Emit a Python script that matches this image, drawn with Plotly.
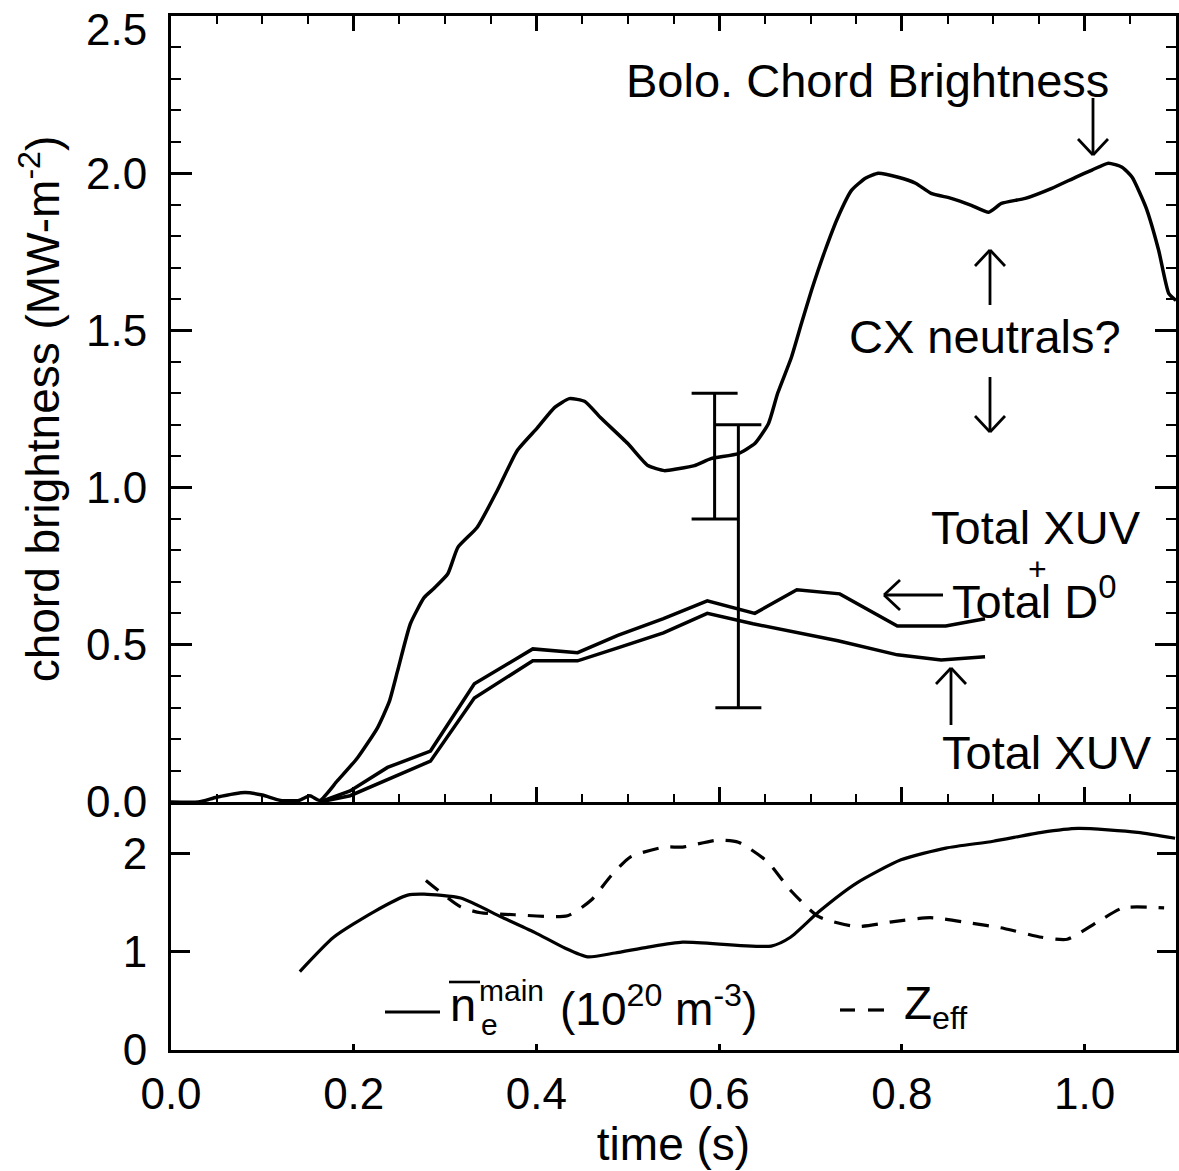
import math
import plotly.graph_objects as go

# ---------------- data ----------------
bolo_t = [0.0, 0.03, 0.05, 0.081, 0.10, 0.12, 0.14, 0.152, 0.163, 0.182, 0.204, 0.226, 0.239,
          0.248, 0.262, 0.277, 0.288, 0.303, 0.314, 0.335, 0.357, 0.379, 0.401, 0.42, 0.436,
          0.453, 0.47, 0.5, 0.522, 0.54, 0.555, 0.573, 0.591, 0.621, 0.639, 0.654, 0.664,
          0.679, 0.69, 0.701, 0.716, 0.73, 0.745, 0.76, 0.774, 0.796, 0.815, 0.832, 0.854,
          0.876, 0.895, 0.909, 0.935, 0.964, 0.99, 1.008, 1.026, 1.041, 1.052, 1.067, 1.081,
          1.092, 1.1]
bolo_v = [0.0, 0.0, 0.015, 0.03, 0.022, 0.005, 0.005, 0.02, 0.005, 0.067, 0.14, 0.236, 0.32,
          0.417, 0.567, 0.65, 0.68, 0.726, 0.81, 0.873, 0.99, 1.118, 1.19, 1.255, 1.283,
          1.274, 1.223, 1.14, 1.07, 1.054, 1.06, 1.07, 1.092, 1.108, 1.14, 1.204, 1.3,
          1.414, 1.522, 1.627, 1.755, 1.86, 1.946, 1.984, 2.0, 1.987, 1.968, 1.936, 1.92,
          1.898, 1.876, 1.904, 1.92, 1.952, 1.987, 2.01, 2.032, 2.019, 1.987, 1.892, 1.755,
          1.618, 1.595]

xuvd0_t = [0.163, 0.196, 0.237, 0.284, 0.332, 0.396, 0.445, 0.489, 0.539, 0.587, 0.639,
           0.685, 0.732, 0.795, 0.848, 0.891]
xuvd0_v = [0.0, 0.035, 0.11, 0.162, 0.376, 0.487, 0.475, 0.53, 0.583, 0.64, 0.60,
           0.675, 0.662, 0.56, 0.56, 0.583]

xuv_t = [0.163, 0.196, 0.284, 0.332, 0.396, 0.445, 0.489, 0.539, 0.587, 0.637, 0.730,
         0.795, 0.843, 0.891]
xuv_v = [0.0, 0.02, 0.13, 0.331, 0.449, 0.449, 0.49, 0.538, 0.60, 0.567, 0.513,
         0.468, 0.452, 0.462]

eb_t = [0.595, 0.621]
eb_center = [1.10, 0.75]
eb_err = [0.20, 0.45]

ne_t = [0.141, 0.178, 0.222, 0.259, 0.277, 0.317, 0.361, 0.398, 0.431, 0.456, 0.486,
        0.522, 0.56, 0.657, 0.678, 0.709, 0.75, 0.799, 0.848, 0.9, 0.953, 0.993, 1.058, 1.099]
ne_v = [0.80, 1.15, 1.41, 1.58, 1.59, 1.55, 1.36, 1.20, 1.04, 0.95, 0.99,
        1.05, 1.10, 1.06, 1.15, 1.41, 1.70, 1.94, 2.06, 2.13, 2.22, 2.26, 2.22, 2.16]

zeff_t = [0.279, 0.317, 0.339, 0.376, 0.434, 0.46, 0.481, 0.503, 0.54, 0.56, 0.597, 0.621,
          0.653, 0.678, 0.709, 0.75, 0.791, 0.831, 0.872, 0.912, 0.953, 0.981, 1.013, 1.042, 1.087]
zeff_v = [1.73, 1.46, 1.40, 1.38, 1.37, 1.53, 1.77, 1.97, 2.07, 2.07, 2.14, 2.12,
          1.92, 1.63, 1.36, 1.26, 1.31, 1.35, 1.30, 1.24, 1.15, 1.13, 1.30, 1.45, 1.45]

top_ticks = [0.0, 0.5, 1.0, 1.5, 2.0, 2.5]
bot_ticks = [0, 1, 2]
x_ticks = [0.0, 0.2, 0.4, 0.6, 0.8, 1.0]

# ---------------- layout geometry (pixels) ----------------
W, H = 1179, 1171
L, R, T, B = 171, 1176, 16, 1050
SPLIT = 802  # pixel row between panels
FONT = "Liberation Sans, Arial, Helvetica, sans-serif"


def P(x, y):
    return (x - L) / (R - L), (B - y) / (B - T)


fig = go.Figure()
LW = 3.5
fig.add_trace(go.Scatter(x=bolo_t, y=bolo_v, mode="lines",
                         line=dict(color="black", width=LW, shape="spline", smoothing=0.5),
                         xaxis="x", yaxis="y", showlegend=False, name="Bolo"))
fig.add_trace(go.Scatter(x=xuvd0_t, y=xuvd0_v, mode="lines", line=dict(color="black", width=LW),
                         xaxis="x", yaxis="y", showlegend=False, name="XUV+D0"))
fig.add_trace(go.Scatter(x=xuv_t, y=xuv_v, mode="lines", line=dict(color="black", width=LW),
                         xaxis="x", yaxis="y", showlegend=False, name="XUV"))
fig.add_trace(go.Scatter(x=eb_t, y=eb_center, mode="markers",
                         marker=dict(size=1, color="rgba(0,0,0,0)"),
                         error_y=dict(type="data", array=eb_err, visible=True, color="black",
                                      thickness=3, width=23),
                         xaxis="x", yaxis="y", showlegend=False, name="err"))
fig.add_trace(go.Scatter(x=ne_t, y=ne_v, mode="lines",
                         line=dict(color="black", width=3.2, shape="spline", smoothing=0.6),
                         xaxis="x2", yaxis="y2", showlegend=False, name="ne"))
fig.add_trace(go.Scatter(x=zeff_t, y=zeff_v, mode="lines",
                         line=dict(color="black", width=3.2, dash="16px,12px",
                                   shape="spline", smoothing=0.6),
                         xaxis="x2", yaxis="y2", showlegend=False, name="Zeff"))

split_frac = (B - SPLIT) / (B - T)
axis_common = dict(showline=True, linewidth=3, linecolor="black", showgrid=False,
                   zeroline=False, tickcolor="black", ticklabeloverflow="allow",
                   tickfont=dict(family=FONT, size=44, color="black"))

# the top label (2.5) sits a little below its tick in the reference, so it is placed
# as an annotation and left blank in the tick text
top_text = [f"{v:.1f}" if v < 2.5 else "" for v in top_ticks]

fig.update_layout(
    width=W, height=H,
    margin=dict(l=L, r=W - R, t=T, b=H - B, autoexpand=False),
    plot_bgcolor="white", paper_bgcolor="white",
    font=dict(family=FONT, color="black"),
    xaxis=dict(domain=[0, 1], anchor="y", range=[0, 1.1], showticklabels=False,
               ticks="inside", ticklen=15, tickwidth=2.5, tickmode="array", tickvals=x_ticks,
               minor=dict(ticks="inside", ticklen=8, tickwidth=2, dtick=0.05, tick0=0,
                          tickcolor="black"),
               mirror="allticks", **axis_common),
    yaxis=dict(domain=[split_frac, 1], anchor="x", range=[0, 2.5], tickmode="array",
               tickvals=top_ticks, ticktext=top_text,
               ticks="inside", ticklen=21, tickwidth=2.5, ticklabelstandoff=12,
               minor=dict(ticks="inside", ticklen=10, tickwidth=2, dtick=0.1, tick0=0,
                          tickcolor="black"),
               mirror="allticks",
               title=dict(text="chord brightness (MW-m<sup>-2</sup>)",
                          font=dict(family=FONT, size=46, color="black"), standoff=12),
               **axis_common),
    xaxis2=dict(domain=[0, 1], anchor="y2", range=[0, 1.1], tickmode="array",
                tickvals=x_ticks, ticktext=[f"{v:.1f}" for v in x_ticks],
                ticks="inside", ticklen=6, tickwidth=2.5, ticklabelstandoff=3,
                mirror=False,
                title=dict(text="time (s)", font=dict(family=FONT, size=46, color="black"),
                           standoff=2),
                **axis_common),
    yaxis2=dict(domain=[0, split_frac], anchor="x2", range=[0, 2.53], tickmode="array",
                tickvals=bot_ticks, ticktext=[str(v) for v in bot_ticks],
                ticks="inside", ticklen=19, tickwidth=2.5, ticklabelstandoff=12,
                mirror="allticks", **axis_common),
)

# ---------------- annotations ----------------
anns = []


def text(t, x, y, size=47, xanchor="center"):
    px, py = P(x, y)
    anns.append(dict(text=t, x=px, y=py, xref="paper", yref="paper", showarrow=False,
                     xanchor=xanchor, yanchor="middle",
                     font=dict(family=FONT, size=size, color="black")))


text(f"{top_ticks[-1]:.1f}", 149, 30, size=44, xanchor="right")
text("Bolo. Chord Brightness", 867, 80)
text("CX neutrals?", 985, 336)
text("Total XUV", 1036, 527)
text("+", 1037, 569, size=32)
text("Total D<sup>0</sup>", 950, 598, xanchor="left")
text("Total XUV", 1047, 752)

# bottom panel legend text
text("n", 448, 1004, size=47, xanchor="left")
text("main", 477, 990, size=30, xanchor="left")
text("e", 479, 1024, size=30, xanchor="left")
text("(10<sup>20</sup> m<sup>-3</sup>)", 558, 1006, size=46, xanchor="left")
text("Z<sub>eff</sub>", 902, 1006, size=46, xanchor="left")

shapes = []


def seg(x0, y0, x1, y1, width=2.8):
    a, b = P(x0, y0)
    c, d = P(x1, y1)
    shapes.append(dict(type="line", xref="paper", yref="paper", x0=a, y0=b, x1=c, y1=d,
                       line=dict(color="black", width=width)))


def arrow(x0, y0, x1, y1, hw=15, hl=16):
    # shaft from (x0,y0) to tip (x1,y1), open V head at tip
    seg(x0, y0, x1, y1)
    dx, dy = x1 - x0, y1 - y0
    n = math.hypot(dx, dy)
    ux, uy = dx / n, dy / n
    bx, by = x1 - ux * hl, y1 - uy * hl
    seg(x1, y1, bx - uy * hw, by + ux * hw)
    seg(x1, y1, bx + uy * hw, by - ux * hw)


arrow(1093, 98, 1093, 155)
arrow(990, 305, 990, 250)
arrow(990, 377, 990, 432)
arrow(943, 595, 884, 595)
arrow(951, 725, 951, 668)

# legend sample lines and n overline
seg(385, 1012, 440, 1012, width=3.2)
seg(840, 1010, 855, 1010, width=3.2)
seg(868, 1010, 884, 1010, width=3.2)
seg(449, 982, 480, 982, width=2.6)

fig.update_layout(annotations=anns, shapes=shapes)
fig.write_html("out.html")
